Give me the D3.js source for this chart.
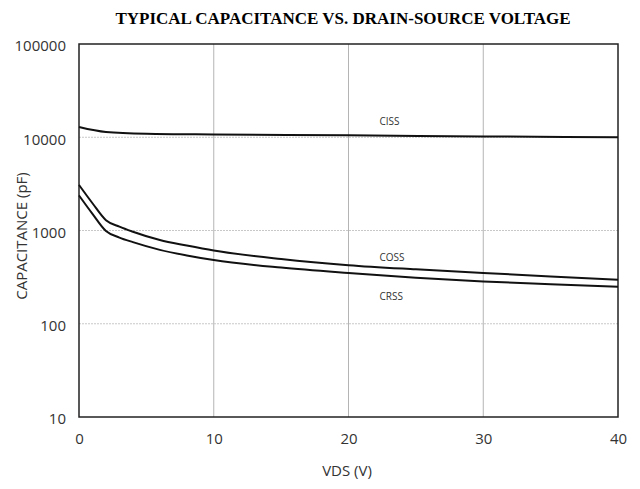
<!DOCTYPE html>
<meta charset="utf-8">
<style>
  body { margin: 0; background: #fff; }
  .tick text { font-family: "Open Sans", "Liberation Sans", sans-serif; }
</style>
<script src="https://d3js.org/d3.v7.min.js"></script>
<div id="chart"></div>
<script>
// values
var vds  = [0, 1, 2, 3, 4, 6, 8, 10, 15, 20, 25, 30, 35, 40];
var coss = [3080, 1960, 1290, 1100, 970, 790, 690, 610, 495, 425, 383, 350, 322, 297];
var crss = [2380, 1510, 990, 840, 750, 620, 540, 482, 400, 350, 312, 284, 266, 250];
var vdsCiss = [0, 2, 5, 10, 20, 30, 40];
var ciss    = [12900, 11400, 10900, 10700, 10500, 10200, 10000];
var xTicks = [0, 10, 20, 30, 40];
var yTicks = [10, 100, 1000, 10000, 100000];
var curveLabels = ["CISS", "COSS", "CRSS"];
var labelV = [22.3, 22.3, 22.3];
var labelC = [13500, 471, 180];

var width = 640, height = 489;
var margin = {top: 44, right: 22, bottom: 72, left: 79};

var svg = d3.select("#chart").append("svg")
    .attr("width", width)
    .attr("height", height);

var x = d3.scaleLinear().domain([0, 40]).range([margin.left, width - margin.right]);
var y = d3.scaleLog().domain([10, 100000]).range([height - margin.bottom, margin.top]);

// grid
svg.append("g")
  .selectAll("line")
  .data(xTicks.slice(1, -1))
  .join("line")
    .attr("x1", d => x(d)).attr("x2", d => x(d))
    .attr("y1", y(10)).attr("y2", y(100000))
    .attr("stroke", "#b4b4b4");
svg.append("g")
  .selectAll("line")
  .data(yTicks.slice(1, -1))
  .join("line")
    .attr("x1", x(0)).attr("x2", x(40))
    .attr("y1", d => y(d)).attr("y2", d => y(d))
    .attr("stroke", "#c8c8c8")
    .attr("stroke-dasharray", "2,1");

// frame
svg.append("rect")
  .attr("x", x(0)).attr("y", y(100000))
  .attr("width", x(40) - x(0)).attr("height", y(10) - y(100000))
  .attr("fill", "none").attr("stroke", "#222").attr("stroke-width", 1.5);

// axes
var xAxis = svg.append("g")
  .attr("transform", "translate(0," + (y(10) + 13) + ")")
  .call(d3.axisBottom(x).tickValues(xTicks).tickSize(0).tickPadding(0));
var yAxis = svg.append("g")
  .attr("transform", "translate(" + (x(0) - 13) + ",0)")
  .call(d3.axisLeft(y).tickValues(yTicks).tickFormat(d3.format("d")).tickSize(0).tickPadding(0));
[xAxis, yAxis].forEach(function(a) {
  a.select(".domain").remove();
  a.selectAll("text").attr("font-size", 15).attr("fill", "#333");
});
yAxis.selectAll("text").attr("dy", "0.45em");
xAxis.selectAll("text").attr("dy", "0.9em");

// lines
var line = d3.line().x(d => x(d[0])).y(d => y(d[1])).curve(d3.curveMonotoneX);
[d3.zip(vdsCiss, ciss), d3.zip(vds, coss), d3.zip(vds, crss)].forEach(function(s) {
  svg.append("path")
    .datum(s)
    .attr("d", line)
    .attr("fill", "none")
    .attr("stroke", "#111")
    .attr("stroke-width", 2);
});

// curve labels
svg.append("g")
  .selectAll("text")
  .data(curveLabels)
  .join("text")
    .attr("x", (d, i) => x(labelV[i]))
    .attr("y", (d, i) => y(labelC[i]))
    .attr("font-family", "Open Sans, sans-serif")
    .attr("font-size", 10)
    .attr("fill", "#333")
    .text(d => d);

// title and axis titles
svg.append("text")
  .attr("x", 343).attr("y", 24)
  .attr("text-anchor", "middle")
  .attr("font-family", "Liberation Serif, serif")
  .attr("font-weight", "bold")
  .attr("font-size", 17)
  .text("TYPICAL CAPACITANCE VS. DRAIN-SOURCE VOLTAGE");

svg.append("text")
  .attr("x", 347).attr("y", 476)
  .attr("text-anchor", "middle")
  .attr("font-family", "Open Sans, sans-serif")
  .attr("font-size", 15)
  .attr("fill", "#333")
  .text("VDS (V)");

svg.append("text")
  .attr("transform", "translate(27,236) rotate(-90)")
  .attr("text-anchor", "middle")
  .attr("font-family", "Open Sans, sans-serif")
  .attr("font-size", 15)
  .attr("fill", "#333")
  .text("CAPACITANCE (pF)");
</script>
